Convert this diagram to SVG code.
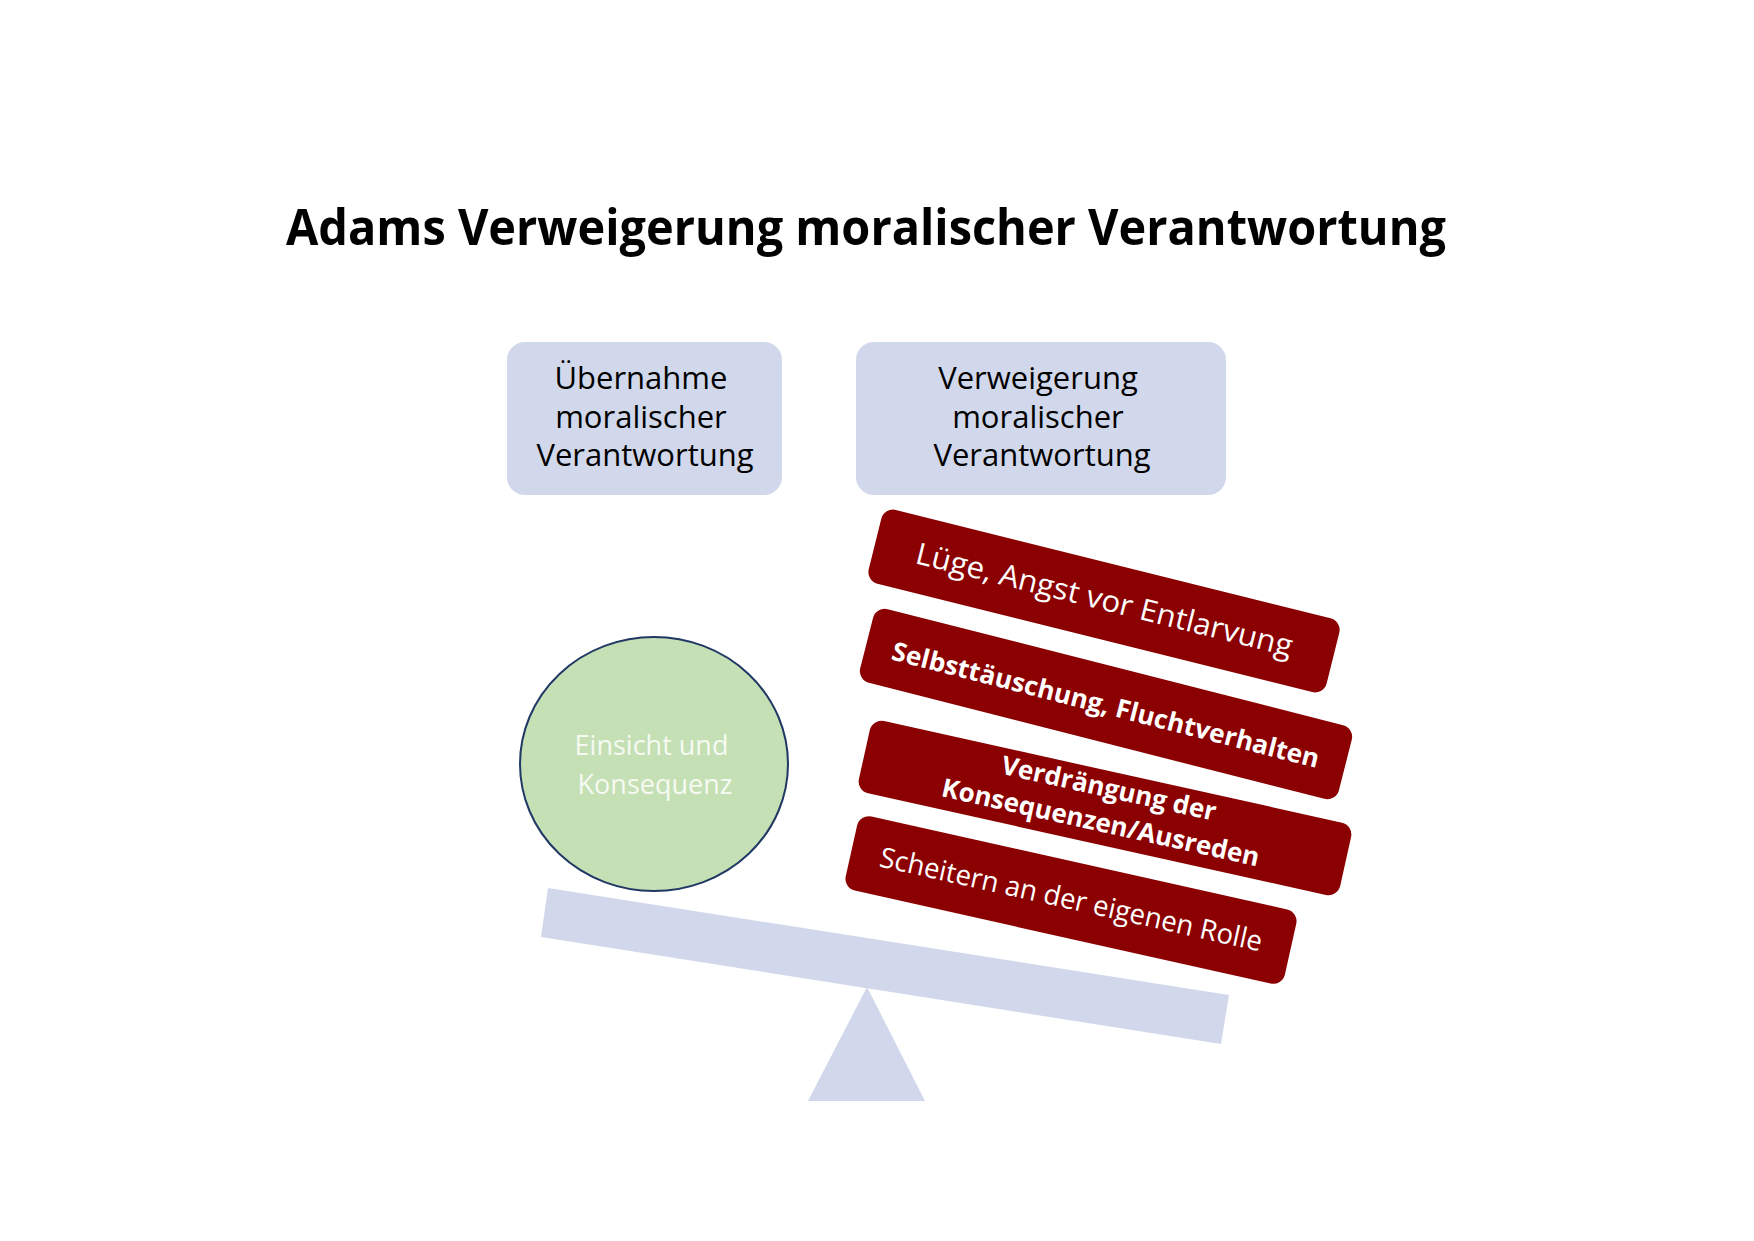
<svg xmlns="http://www.w3.org/2000/svg" width="1754" height="1241" viewBox="0 0 1754 1241">
  <style>
    .title { font-family: "Open Sans", "Liberation Sans", sans-serif; font-weight: bold; font-size: 50px; fill: #000000; }
    .boxtxt { font-family: "Open Sans", "Liberation Sans", sans-serif; font-size: 31px; fill: #000000; }
    .topbox { fill: #D1D8EB; }
    .scale { fill: #D1D8EB; }
    .red { fill: #8B0000; }
    .redtxt { font-family: "Open Sans", "Liberation Sans", sans-serif; fill: #FFFFFF; }
    .bold { font-weight: bold; font-size: 26px; }
    .circtxt { font-family: "Open Sans", "Liberation Sans", sans-serif; font-size: 27px; fill: #F6FAF3; }
  </style>
  <rect width="1754" height="1241" fill="#FFFFFF"/>

  <text class="title" x="866" y="245" text-anchor="middle" textLength="1160" lengthAdjust="spacingAndGlyphs">Adams Verweigerung moralischer Verantwortung</text>

  <g id="connectors"></g>

  <g id="box-uebernahme">
    <rect class="topbox" x="507" y="342" width="275" height="153" rx="18"/>
    <text class="boxtxt" text-anchor="middle">
      <tspan x="645" y="389">Übernahme</tspan>
      <tspan x="645" y="428">moralischer</tspan>
      <tspan x="645" y="466">Verantwortung</tspan>
    </text>
  </g>

  <g id="box-verweigerung">
    <rect class="topbox" x="856" y="342" width="370" height="153" rx="18"/>
    <text class="boxtxt" text-anchor="middle">
      <tspan x="1042" y="389">Verweigerung</tspan>
      <tspan x="1042" y="428">moralischer</tspan>
      <tspan x="1042" y="466">Verantwortung</tspan>
    </text>
  </g>

  <g id="fulcrum">
    <polygon class="scale" points="867,987 925,1101 808,1101"/>
  </g>
  <g id="beam">
    <polygon class="scale" points="548,888 1229,995 1221,1044 541,937"/>
  </g>

  <g id="einsicht">
    <ellipse cx="654" cy="764" rx="134" ry="127" fill="#C5E0B4" stroke="#203864" stroke-width="2"/>
    <text class="circtxt" text-anchor="middle">
      <tspan x="655" y="755">Einsicht und</tspan>
      <tspan x="655" y="794">Konsequenz</tspan>
    </text>
  </g>

  <g id="luege" transform="translate(1104,601) rotate(14)">
    <rect class="red" x="-236" y="-38" width="472" height="76" rx="12"/>
    <text class="redtxt" x="0" y="9" font-size="30" text-anchor="middle" textLength="387" lengthAdjust="spacingAndGlyphs">Lüge, Angst vor Entlarvung</text>
  </g>

  <g id="selbsttaeuschung" transform="translate(1106,704) rotate(14.3)">
    <rect class="red" x="-247" y="-38" width="494" height="76" rx="12"/>
    <text class="redtxt bold" x="0" y="10" text-anchor="middle" textLength="440" lengthAdjust="spacingAndGlyphs">Selbsttäuschung, Fluchtverhalten</text>
  </g>

  <g id="verdraengung" transform="translate(1105,808) rotate(12.5)">
    <rect class="red" x="-246.5" y="-37" width="493" height="74" rx="12"/>
    <text class="redtxt bold" text-anchor="middle">
      <tspan x="3" y="-11">Verdrängung der</tspan>
      <tspan x="-1" y="24">Konsequenzen/Ausreden</tspan>
    </text>
  </g>

  <g id="scheitern" transform="translate(1071,900) rotate(12.6)">
    <rect class="red" x="-225" y="-38" width="450" height="76" rx="12"/>
    <text class="redtxt" x="0" y="9" font-size="28" text-anchor="middle" textLength="391" lengthAdjust="spacingAndGlyphs">Scheitern an der eigenen Rolle</text>
  </g>
</svg>
